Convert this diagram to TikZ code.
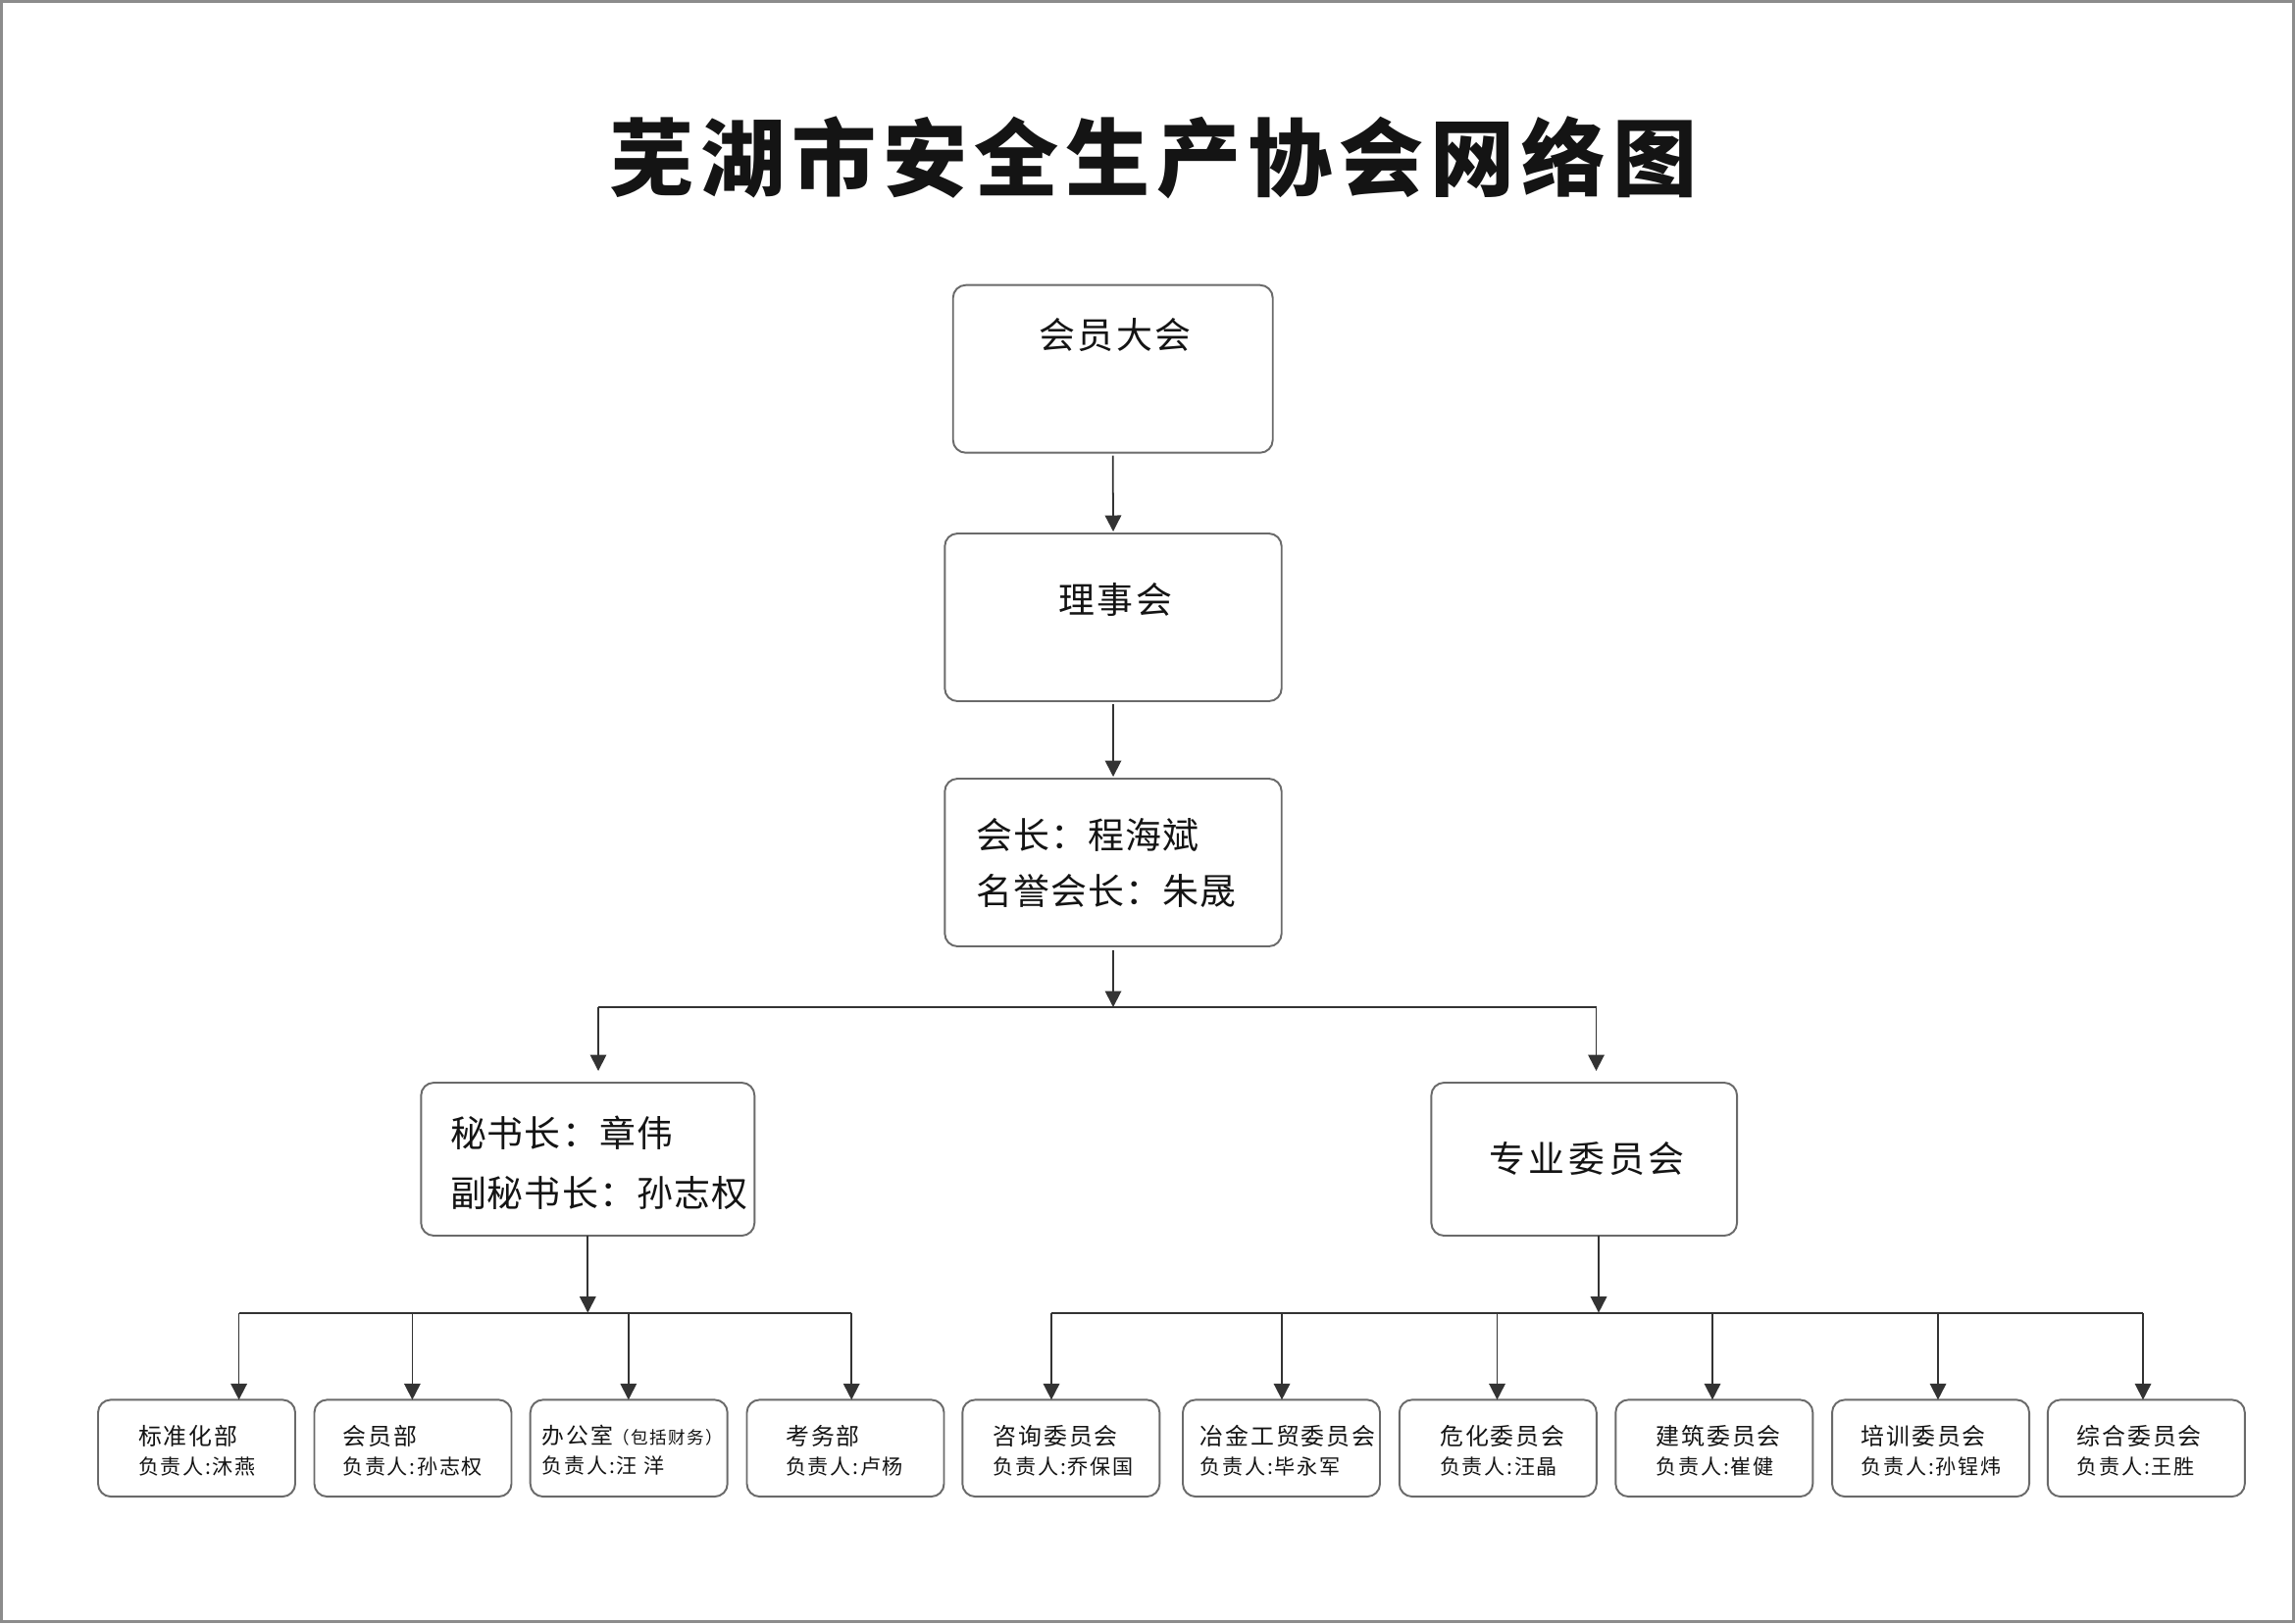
\documentclass[tikz,border=0pt]{standalone}
\usepackage{fontspec}
\setmainfont{Noto Sans CJK SC}
\usepackage{xcolor}
\usepackage{tikz}
\usetikzlibrary{arrows.meta,calc}
\definecolor{frame}{HTML}{8C8C8C}
\definecolor{line}{HTML}{6A6A6A}
\definecolor{wire}{HTML}{333333}
\definecolor{ink}{HTML}{141414}
\newcommand{\headsz}{\fontsize{6.8}{8.5}\selectfont}
\tikzset{
  box/.style      = {draw=line, fill=white, line width=0.55pt, rounded corners=1.3mm, inner sep=0pt, outer sep=0pt},
  unit/.style     = {box, minimum width=20.1mm, minimum height=9.87mm},
  wire/.style     = {draw=wire, line width=0.5pt},
  flow/.style     = {wire, -{Triangle[length=1.65mm,width=1.65mm]}},
  headline/.style = {font=\fontsize{24.5}{28}\selectfont\bfseries\addfontfeatures{LetterSpace=8}, text=ink, inner sep=0pt},
  mid/.style      = {font=\fontsize{10.5}{16}\selectfont\addfontfeatures{LetterSpace=7}, text=ink, inner sep=0pt},
  midlines/.style = {font=\fontsize{10.5}{16}\selectfont\addfontfeatures{LetterSpace=3}, text=ink, inner sep=0pt, align=left, anchor=west},
  unittxt/.style  = {font=\fontsize{6}{8.5}\selectfont\addfontfeatures{LetterSpace=8}, text=ink, align=left, anchor=west, inner sep=0pt},
}
\begin{document}
\begin{tikzpicture}[x=0.1mm,y=-0.1mm]
\path[use as bounding box] (0,0) rectangle (2340,1655);
\draw[frame, line width=0.9pt] (1.5,1.5) rectangle (2338.5,1653.5);

\node[headline] (title) at (1176,161) {芜湖市安全生产协会网络图};

% ---- upper chain --------------------------------------------------------
\node[box, minimum width=32.6mm, minimum height=17.1mm] (assembly) at (1134.7,376.2) {};
\node[mid] (assemblyt) at (1137,341.7) {会员大会};

\node[box, minimum width=34.34mm, minimum height=17.1mm] (council) at (1135,629.5) {};
\node[mid] (councilt) at (1137,611.7) {理事会};

\node[box, minimum width=34.34mm, minimum height=17.1mm] (pres) at (1135,879.5) {};
\node[midlines] (prest) at (995,880) {会长：程海斌\\名誉会长：朱晟};

\draw[flow, shorten <=0.3mm, shorten >=0.2mm] (assembly.south) -- (council.north);
\draw[flow, shorten <=0.3mm, shorten >=0.2mm] (council.south) -- (pres.north);

% ---- split --------------------------------------------------------------
\coordinate (prejoin) at (1135,1027);
\coordinate (jl) at (610,1027);
\coordinate (jr) at (1627.5,1027);

\node[box, minimum width=34mm, minimum height=15.6mm] (sec) at (599.3,1182) {};
\node[midlines, font=\fontsize{10.5}{17.5}\selectfont\addfontfeatures{LetterSpace=3}] (sect) at (458.3,1186) {秘书长：章伟\\副秘书长：孙志权};

\node[box, minimum width=31.17mm, minimum height=15.6mm] (com) at (1615.2,1182) {};
\node[mid, font=\fontsize{10.5}{16}\selectfont\addfontfeatures{LetterSpace=10}] (comt) at (1618,1181.7) {专业委员会};

\draw[flow, shorten <=0.4mm] (pres.south) -- (prejoin);
\draw[wire] (jl) -- (jr);
\draw[flow, shorten >=1.2mm] (jl) -- (jl |- sec.north);
\draw[flow, shorten >=1.2mm] (jr) -- (jr |- com.north);

% ---- departments --------------------------------------------------------
\foreach \n/\c in {1/200.5,2/421,3/641.2,4/862,5/1081.8,6/1306.5,7/1527.3,8/1747.8,9/1968.5,10/2188.3}
  \node[unit] (b\n) at (\c,1476.7) {};

\node[unittxt] (t1) at (140.3,1479) {{\headsz 标准化部}\\负责人:沐燕};
\node[unittxt] (t2) at (348.7,1479) {{\headsz 会员部}\\负责人:孙志权};
\node[unittxt] (t3) at (552,1479) {{\fontsize{6.5}{8.5}\selectfont 办公室{\fontsize{5}{8.5}\selectfont （包括财务）}}\\负责人:汪 洋};
\node[unittxt] (t4) at (800.5,1479) {{\headsz 考务部}\\负责人:卢杨};
\node[unittxt] (t5) at (1012,1479) {{\headsz 咨询委员会}\\负责人:乔保国};
\node[unittxt] (t6) at (1223,1479) {{\headsz 冶金工贸委员会}\\负责人:毕永军};
\node[unittxt] (t7) at (1467.5,1479) {{\headsz 危化委员会}\\负责人:汪晶};
\node[unittxt] (t8) at (1688,1479) {{\headsz 建筑委员会}\\负责人:崔健};
\node[unittxt] (t9) at (1897,1479) {{\headsz 培训委员会}\\负责人:孙锃炜};
\node[unittxt] (t10) at (2117,1479) {{\headsz 综合委员会}\\负责人:王胜};

% ---- department wiring --------------------------------------------------
\coordinate (secjoin) at (599.3,1338.6);
\coordinate (comjoin) at (1630,1338.6);
\draw[flow] (sec.south) -- (secjoin);
\draw[flow] (comjoin |- com.south) -- (comjoin);

\foreach \n/\x in {1/243.6,2/420.4,3/640.8,4/868.2,5/1072,6/1307,7/1526.5,8/1746,9/1976,10/2185}{
  \coordinate (a\n) at (\x,1338.6);
  \draw[flow] (a\n) -- (a\n |- b\n.north);
}
\draw[wire] (a1) -- (a4);
\draw[wire] (a5) -- (a10);

\end{tikzpicture}
\end{document}
